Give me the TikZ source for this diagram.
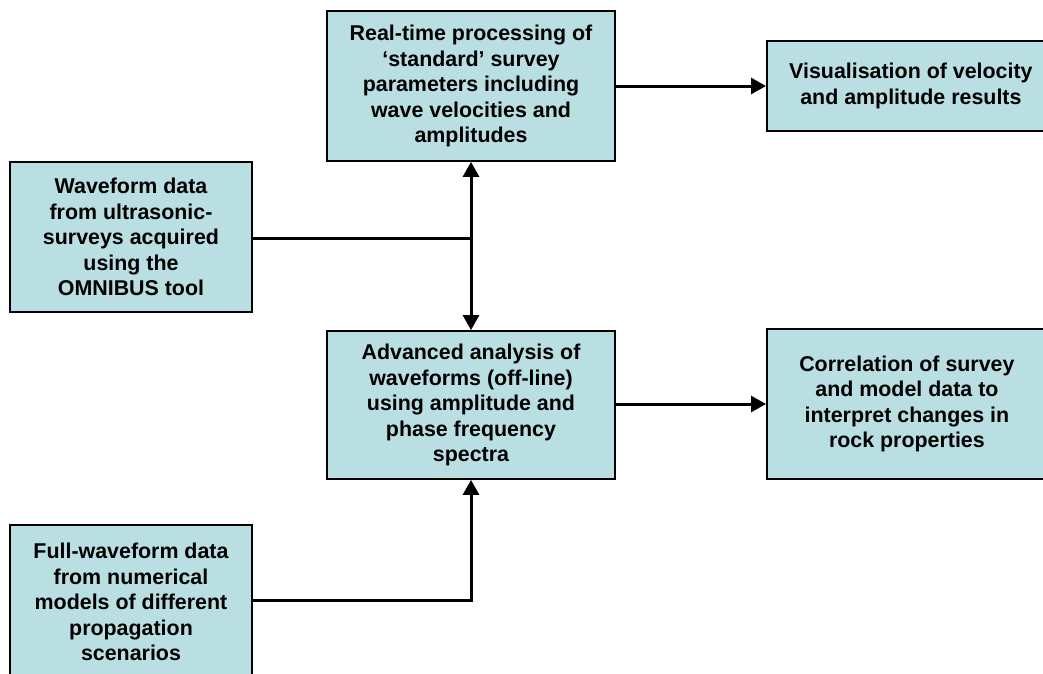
\documentclass[tikz,border=0pt]{standalone}
\usepackage{fontspec}
\setmainfont{Liberation Sans}
\usetikzlibrary{arrows.meta}
\definecolor{boxfill}{HTML}{B9DFE3}
\begin{document}
\begin{tikzpicture}[x=1pt,y=-1pt,
  box/.style={draw=black,line width=1.8pt,fill=boxfill,inner sep=0pt,
    font=\fontsize{21.4}{25.5}\selectfont\bfseries,align=center},
  conn/.style={line width=3pt},
  tip/.tip={Triangle[length=15pt,width=16pt]},
  arr/.style={conn,-tip}]
\useasboundingbox (0,0) rectangle (1043,673);
\clip (0,0) rectangle (1043,673);
\fill[white] (0,0) rectangle (1043,673);
\node[box,minimum width=288pt,minimum height=150pt] (rt) at (471,86) {Real-time processing of\\‘standard’ survey\\parameters including\\wave velocities and\\amplitudes};
\node[box,minimum width=288pt,minimum height=90pt,anchor=west] (vis) at (766,86) {Visualisation of velocity\\and amplitude results};
\node[box,minimum width=242pt,minimum height=150pt] (wf) at (131,237) {Waveform data\\from ultrasonic-\\surveys acquired\\using the\\OMNIBUS tool};
\node[box,minimum width=288pt,minimum height=148pt] (adv) at (471,405) {Advanced analysis of\\waveforms (off-line)\\using amplitude and\\phase frequency\\spectra};
\node[box,minimum width=280pt,minimum height=150pt,anchor=west] (cor) at (766,404) {Correlation of survey\\and model data to\\interpret changes in\\rock properties};
\node[box,minimum width=242pt,minimum height=154pt,anchor=north] (fw) at (131,524) {Full-waveform data\\from numerical\\models of different\\propagation\\scenarios};
\coordinate (j1) at (471,238);
\coordinate (j2) at (471,600);
\draw[arr] (rt.east) -- (vis.west);
\draw[arr] (adv.east |- cor.west) -- (cor.west);
\draw[conn,tip-tip] (rt.south) -- (adv.north);
\draw[conn] (wf.east |- j1) -- (j1);
\draw[arr] (fw.east |- j2) -- (j2) -- (adv.south);
\end{tikzpicture}
\end{document}
